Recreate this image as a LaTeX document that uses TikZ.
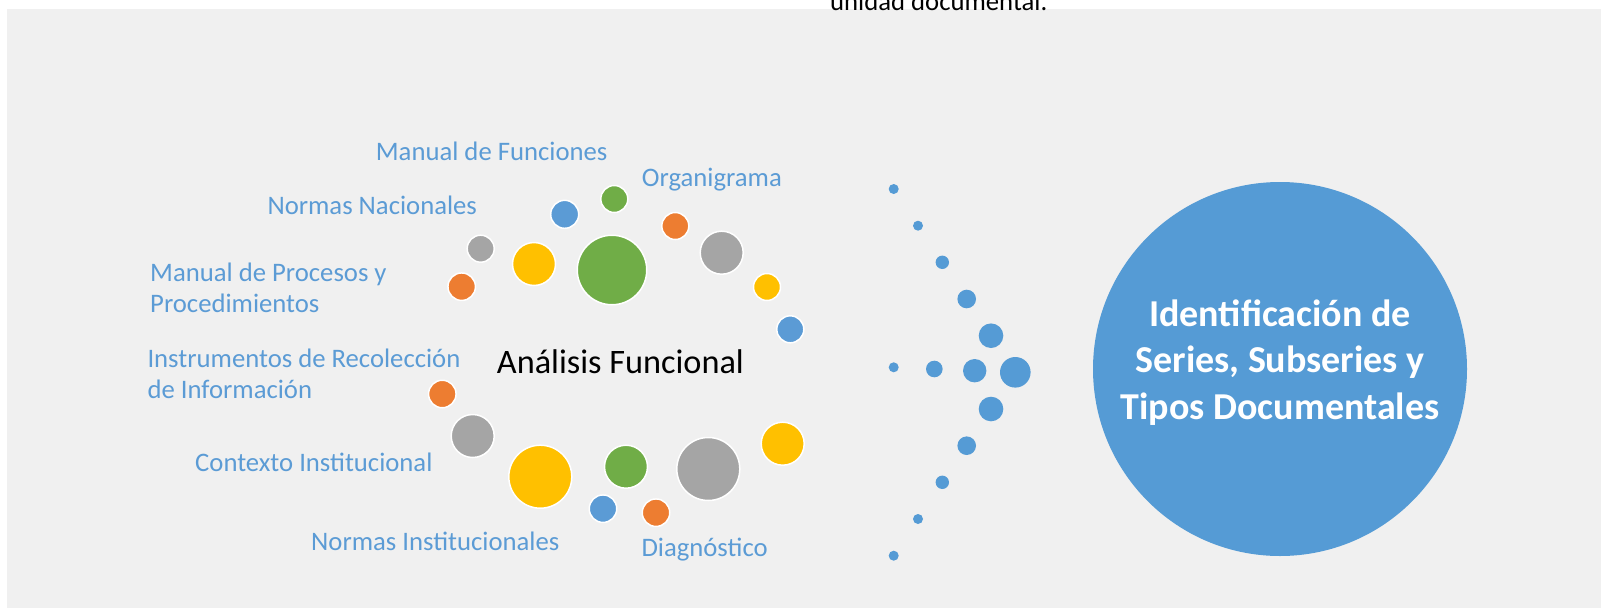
\documentclass[tikz,border=0pt]{standalone}
\usepackage{fontspec}
\setmainfont{Carlito}
\definecolor{panel}{HTML}{F0F0F0}
\definecolor{lblue}{HTML}{5B9BD5}
\definecolor{idblue}{HTML}{559BD5}
\definecolor{corange}{HTML}{ED7D31}
\definecolor{cgray}{HTML}{A5A5A5}
\definecolor{cyellow}{HTML}{FFC000}
\definecolor{cgreen}{HTML}{70AD47}
\begin{document}
\begin{tikzpicture}[x=1pt,y=-1pt,
    bubble/.style 2 args={circle,fill=#1,draw=white,line width=1.5pt,inner sep=0pt,minimum size=#2},
    dot/.style={circle,fill=idblue,inner sep=0pt,minimum size=#1},
    lbl/.style={anchor=base west,text=lblue,inner sep=0pt,align=left,font=\fontsize{26.7}{30.6}\selectfont}]
    \useasboundingbox (0,0) rectangle (1601,608);
    \fill[panel] (7,9) rectangle (1601,608);
    \node[anchor=base west,inner sep=0pt,font=\fontsize{26.7}{32}\selectfont] (cap) at (830,10) {unidad documental.};

    % burbujas alrededor del analisis funcional
    \foreach \n/\x/\y/\c/\s in {1/480.7/248.7/cgray/27, 2/461.7/286.7/corange/27.5, 3/564.7/214.3/lblue/28,
        4/614.3/199/cgreen/27, 5/534/264/cyellow/43, 6/612/270/cgreen/69.5, 7/675.3/226/corange/27,
        8/721.7/252.7/cgray/43, 9/767/287/cyellow/27, 10/790.3/329.3/lblue/27,
        11/442.3/394/corange/27.5, 12/472.7/436/cgray/43, 13/540.3/476.7/cyellow/63, 14/603/508.7/lblue/27.5,
        15/626/466.7/cgreen/43, 16/656/512.7/corange/27.5, 17/708.3/469/cgray/63, 18/782.7/443.7/cyellow/43}
        \node[bubble={\c}{\s}] (b\n) at (\x,\y) {};

    \node[anchor=base west,inner sep=0pt,font=\fontsize{34.3}{40}\selectfont] (af) at (496.7,373.3) {Análisis Funcional};

    % etiquetas (base = ultima linea)
    \node[lbl] (mf) at (375.7,160) {Manual de Funciones};
    \node[lbl] (org) at (641.7,186.7) {Organigrama};
    \node[lbl] (nn) at (267.3,214.3) {Normas Nacionales};
    \node[lbl] (mp) at (150,312.3) {Manual de Procesos y\\Procedimientos};
    \node[lbl] (ir) at (147.3,398.3) {Instrumentos de Recolección\\de Información};
    \node[lbl] (ci) at (195,471.7) {Contexto Institucional};
    \node[lbl] (ni) at (311,550) {Normas Institucionales};
    \node[lbl] (dg) at (641.3,556.7) {Diagnóstico};

    % flecha de puntos
    \foreach \n/\x/\y/\s in {1/893.7/189/10, 2/918/225.7/10, 3/942.3/262.3/13.4, 4/966.7/299/18.6, 5/991/335.7/24.6,
        6/893.7/367.3/10, 7/934.3/369/16.6, 8/974.7/370.7/23.4, 9/1015.3/372.3/30.6,
        10/991/409/24.6, 11/966.7/445.7/18.6, 12/942.3/482.3/13.4, 13/918/519/10, 14/893.7/555.7/10}
        \node[dot=\s] (d\n) at (\x,\y) {};

    \node[circle,fill=idblue,minimum size=374,inner sep=0pt] (id) at (1280,369) {};
    \node[anchor=base,inner sep=0pt,align=center,text=white,font=\fontsize{38}{46.5}\selectfont\bfseries] (idt) at (1280,419)
        {Identificación de\\Series, Subseries y\\Tipos Documentales};
\end{tikzpicture}
\end{document}
